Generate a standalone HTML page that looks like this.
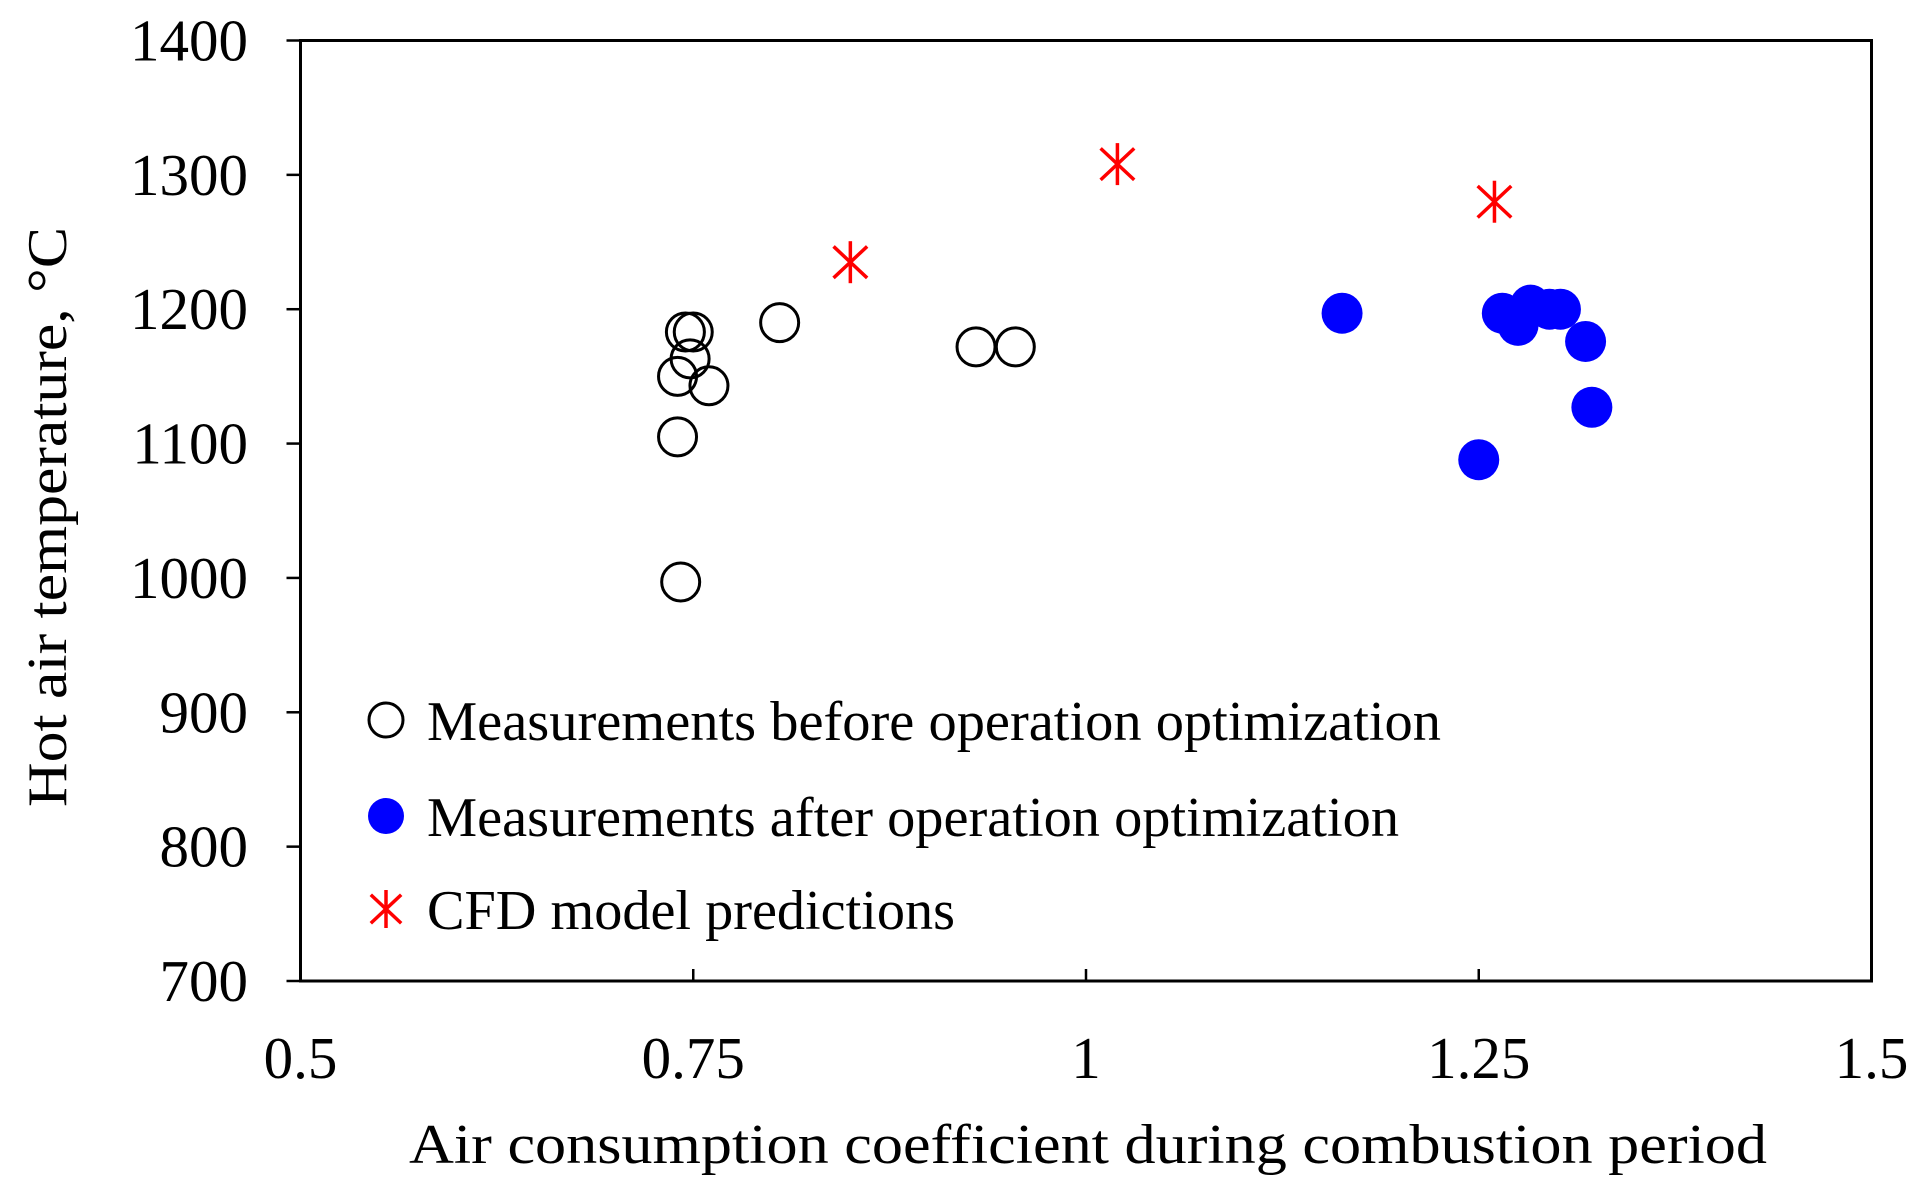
<!DOCTYPE html>
<html><head><meta charset="utf-8"><style>
html,body{margin:0;padding:0;background:#fff;}
svg{display:block;font-family:"Liberation Serif",serif;}
</style></head><body>
<svg id="chart" width="1923" height="1196" viewBox="0 0 1923 1196"></svg>
<script>
const xTicks=[0.5,0.75,1,1.25,1.5];
const xTickLabels=["0.5","0.75","1","1.25","1.5"];
const yTicks=[700,800,900,1000,1100,1200,1300,1400];
const yTickLabels=["700","800","900","1000","1100","1200","1300","1400"];
const beforeX=[0.74,0.74,0.742,0.745,0.75,0.748,0.76,0.805,0.93,0.955];
const beforeY=[1150,1105,997,1183,1183,1163,1143,1190,1172,1172];
const afterX=[1.163,1.265,1.275,1.283,1.295,1.302,1.318,1.322,1.25];
const afterY=[1197,1197,1188,1203,1200,1200,1176,1127,1088];
const cfdX=[0.85,1.02,1.26];
const cfdY=[1235,1308,1280];

const L=300.5,R=1871.5,T=40.5,B=981;
const sx=v=>L+(v-0.5)/(1.0)*(R-L);
const sy=v=>B-(v-700)/700*(B-T);
const svg=document.getElementById('chart');
const NS='http://www.w3.org/2000/svg';
function mk(tag,attrs,parent){const e=document.createElementNS(NS,tag);for(const k in attrs)e.setAttribute(k,attrs[k]);(parent||svg).appendChild(e);return e;}

const frame=mk('rect',{x:L,y:T,width:R-L,height:B-T,fill:'none',stroke:'#000','stroke-width':3});



yTicks.forEach((v,i)=>{
  const t=mk('line',{x1:L-14,x2:L,y1:sy(v),y2:sy(v),stroke:'#000','stroke-width':2.5});
  
  
  const tx=mk('text',{x:248,y:sy(v)+20,'text-anchor':'end','font-size':59});
  tx.textContent=yTickLabels[i];
  
  
});
xTicks.forEach((v,i)=>{
  const t=mk('line',{x1:sx(v),x2:sx(v),y1:B,y2:B-12,stroke:'#000','stroke-width':2.5});
  
  
  const tx=mk('text',{x:sx(v),y:1078,'text-anchor':'middle','font-size':59});
  tx.textContent=xTickLabels[i];
  
  
});

const xt=mk('text',{x:1088,y:1163,'text-anchor':'middle','font-size':56,textLength:1358,lengthAdjust:'spacingAndGlyphs'});
xt.textContent='Air consumption coefficient during combustion period';


const yt=mk('text',{x:0,y:0,'text-anchor':'middle','font-size':56,textLength:580,lengthAdjust:'spacingAndGlyphs',transform:'translate(66,517) rotate(-90)'});
yt.textContent='Hot air temperature, °C';



function star(cx,cy,r,parent){
  const g=mk('g',{stroke:'#ff0000','stroke-width':3.5,fill:'none'},parent);
  mk('line',{x1:cx,x2:cx,y1:cy-r,y2:cy+r},g);
  mk('line',{x1:cx-r*0.8,x2:cx+r*0.8,y1:cy-r*0.75,y2:cy+r*0.75},g);
  mk('line',{x1:cx-r*0.8,x2:cx+r*0.8,y1:cy+r*0.75,y2:cy-r*0.75},g);
  return g;
}
beforeX.forEach((v,i)=>{
  const c=mk('circle',{cx:sx(v),cy:sy(beforeY[i]),r:19,fill:'none',stroke:'#000','stroke-width':3});
  
  
});
afterX.forEach((v,i)=>{
  const c=mk('circle',{cx:sx(v),cy:sy(afterY[i]),r:20.5,fill:'#0000ff'});
  
  
});
cfdX.forEach((v,i)=>{
  const g=star(sx(v),sy(cfdY[i]),21);
  
  
});

const legend=mk('g',{});


const rows=[720,816,909];
const labels=['Measurements before operation optimization','Measurements after operation optimization','CFD model predictions'];
const widths=[1014,972,528];
rows.forEach((y,i)=>{
  let m;
  if(i===0) m=mk('circle',{cx:386,cy:y,r:17,fill:'none',stroke:'#000','stroke-width':3},legend);
  else if(i===1) m=mk('circle',{cx:386,cy:y,r:18,fill:'#0000ff'},legend);
  else m=star(386,y,19,legend);
  
  
  const t=mk('text',{x:427,y:y+20,'font-size':56,textLength:widths[i],lengthAdjust:'spacingAndGlyphs'},legend);
  t.textContent=labels[i];
  
  
});
</script>
</body></html>
